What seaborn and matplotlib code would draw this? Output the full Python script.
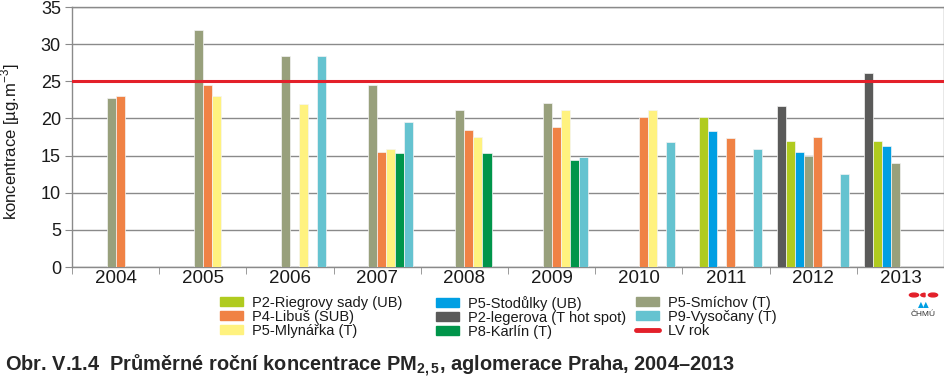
import numpy as np
import pandas as pd
import matplotlib
matplotlib.use("Agg")
import matplotlib.pyplot as plt
import matplotlib.patches as mpatches
from matplotlib.lines import Line2D
import seaborn as sns

# ---- data ----
years = ['2004', '2005', '2006', '2007', '2008', '2009', '2010', '2011', '2012', '2013']

# bar order inside each year group
stations = ['P2-legerova (T hot spot)', 'P2-Riegrovy sady (UB)', 'P5-Stodůlky (UB)',
            'P5-Smíchov (T)', 'P4-Libuš (SUB)', 'P5-Mlynářka (T)', 'P8-Karlín (T)',
            'P9-Vysočany (T)']

nan = np.nan
legerova = [nan, nan, nan, nan, nan, nan, nan, nan, 21.65, 26.05]
riegrovy = [nan, nan, nan, nan, nan, nan, nan, 20.2, 16.95, 16.9]
stodulky = [nan, nan, nan, nan, nan, nan, nan, 18.35, 15.5, 16.35]
smichov = [22.8, 31.85, 28.35, 24.45, 21.1, 22.1, nan, nan, 14.9, 14.05]
libus = [23.0, 24.5, nan, 15.5, 18.5, 18.85, 20.2, 17.4, 17.55, nan]
mlynarka = [nan, 23.0, 22.0, 15.9, 17.5, 21.2, 21.2, nan, nan, nan]
karlin = [nan, nan, nan, 15.35, 15.4, 14.35, nan, nan, nan, nan]
vysocany = [nan, nan, 28.35, 19.5, nan, 14.75, 16.8, 15.9, 12.55, nan]
lv_rok = 25

series = [legerova, riegrovy, stodulky, smichov, libus, mlynarka, karlin, vysocany]
colors = ['#5a5a59', '#b0cb1f', '#009fe3', '#98a07c', '#f08245', '#fff27f',
          '#00954a', '#65c3d0']
palette = dict(zip(stations, colors))

rows = []
for st, vals in zip(stations, series):
    for yr, v in zip(years, vals):
        rows.append({'rok': yr, 'stanice': st, 'hodnota': v})
df = pd.DataFrame(rows)

# ---- plot ----
sns.set_style("white")
plt.rcParams['font.family'] = ['Liberation Sans', 'DejaVu Sans']
plt.rcParams['mathtext.fontset'] = 'custom'
plt.rcParams['mathtext.rm'] = 'Liberation Sans'
plt.rcParams['mathtext.bf'] = 'Liberation Sans:bold'

fig = plt.figure(figsize=(9.45, 3.89), dpi=100)
ax = fig.add_axes([72 / 945, 1 - 267 / 389, 872 / 945, 260 / 389])

sns.barplot(data=df, x='rok', y='hodnota', hue='stanice', order=years,
            hue_order=stations, palette=palette, width=0.83, gap=0,
            dodge=True, saturation=1, edgecolor='#f4f4f4', linewidth=0.5,
            legend=False, ax=ax, zorder=3)

ax.axhline(lv_rok, color='#e3202a', lw=2.2, zorder=4)

ax.set_xlim(-0.5, len(years) - 0.5)
ax.set_ylim(0, 35)
ax.set_yticks(range(0, 36, 5))
ax.yaxis.grid(True, color='#8a8a8a', lw=1)
ax.set_axisbelow(True)
for s in ax.spines.values():
    s.set_color('#8a8a8a')
    s.set_linewidth(1)
ax.set_xticks(np.arange(-0.5, len(years), 1), minor=True)
ax.tick_params(axis='x', which='minor', length=5, color='#8a8a8a', direction='out', bottom=True)
ax.tick_params(axis='x', which='major', length=0, labelsize=13.5, pad=2, labelcolor='#1a1a1a')
ax.tick_params(axis='y', length=5, color='#8a8a8a', direction='out', left=True,
               labelsize=13, pad=3, labelcolor='#1a1a1a')
ax.set_xlabel('')
ax.set_ylabel('koncentrace [µg.m$^{-3}$]', fontsize=12, color='#1a1a1a')
ax.yaxis.set_label_coords(-50 / 872, 0.48)

# ---- legend: three columns ----
handles = {st: mpatches.Patch(color=palette[st]) for st in stations}
handles['LV rok'] = Line2D([0], [0], color='#e3202a', lw=3.5)
columns = [['P2-Riegrovy sady (UB)', 'P4-Libuš (SUB)', 'P5-Mlynářka (T)'],
           ['P5-Stodůlky (UB)', 'P2-legerova (T hot spot)', 'P8-Karlín (T)'],
           ['P5-Smíchov (T)', 'P9-Vysočany (T)', 'LV rok']]
for x0, labels in zip([220, 436, 636], columns):
    leg = fig.legend([handles[l] for l in labels], labels, loc='upper left',
                     bbox_to_anchor=(x0 / 945, 1 - 296 / 389), frameon=False,
                     fontsize=10.5, handlelength=1.58, handleheight=0.55,
                     handletextpad=0.62, labelspacing=0.0, borderpad=0, borderaxespad=0)
    for t in leg.get_texts():
        t.set_color('#1a1a1a')

# ---- ČHMÚ mark ----
for cx in [914, 933]:
    fig.add_artist(mpatches.Circle((cx / 945, 1 - 295 / 389), 4.6 / 945,
                                   transform=fig.transFigure, color='#e3202a'))
fig.add_artist(mpatches.Wedge((925 / 945, 1 - 295 / 389), 4.2 / 945, 90, 270,
                              transform=fig.transFigure, color='#e3202a'))
fig.text(923.5 / 945, 1 - 305 / 389, '▲▲', color='#009fe3', fontsize=5.5, ha='center',
         va='center', family='DejaVu Sans')
fig.text(923.5 / 945, 1 - 315 / 389, 'ČHMÚ', fontsize=6, ha='center', va='center',
         color='#333333')

# ---- caption ----
fig.text(5 / 945, 1 - 366 / 389,
         'Obr. V.1.4  Průměrné roční koncentrace PM$_\\mathbf{2,5}$, aglomerace Praha, 2004–2013',
         fontsize=14.4, fontweight='bold', ha='left', va='center', color='#262626')

fig.savefig('out.png', dpi=100)
